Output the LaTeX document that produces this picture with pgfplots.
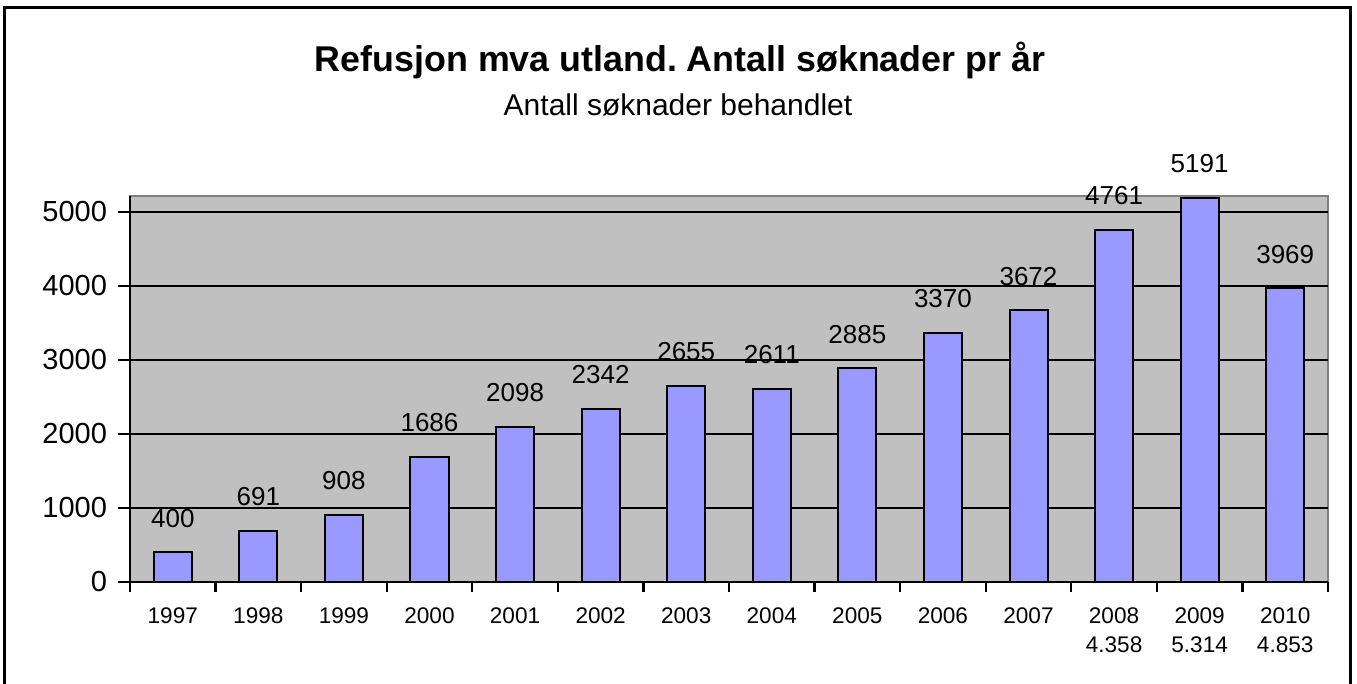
\documentclass[border=0pt]{standalone}
\usepackage{pgfplots}
\pgfplotsset{compat=1.18}
\usepackage{fontspec}
\setmainfont{Liberation Sans}
\frenchspacing
\definecolor{barfill}{HTML}{9999FF}
\definecolor{plotbg}{HTML}{C0C0C0}
\begin{document}
\begin{tikzpicture}
\useasboundingbox (-65pt,-51pt) rectangle (613.5pt,291pt);
\begin{axis}[
  at={(0pt,0pt)}, anchor=south west,
  scale only axis,
  width=599pt, height=193pt,
  xmin=-0.5, xmax=13.5,
  ymin=0, ymax=5216,
  axis lines*=left,
  axis line style={black, line width=1.3pt, -},
  axis background/.style={fill=plotbg, draw=gray, line width=0.8pt},
  ymajorgrids,
  major grid style={black, line width=1pt},
  ytick={0,1000,...,5000},
  xtick={0,...,13},
  xticklabels={1997,1998,1999,2000,2001,2002,2003,2004,2005,2006,2007,{2008\\4.358},{2009\\5.314},{2010\\4.853}},
  minor xtick={-0.5,0.5,...,13.5},
  tick align=outside,
  major tick length=6pt,
  minor tick length=5pt,
  every major x tick/.append style={draw=none},
  tick style={black, line width=1.2pt},
  /pgf/number format/assume math mode=true,
  /pgf/number format/1000 sep={},
  yticklabel style={font=\fontsize{14.5}{16}\selectfont, xshift=-2pt},
  xticklabel style={font=\fontsize{11.3}{14.5}\selectfont, align=center, anchor=north, yshift=-3.5pt},
  ybar, bar width=19pt,
  nodes near coords,
  every node near coord/.append style={font=\fontsize{13}{15}\selectfont, anchor=south, inner sep=0pt, yshift=12pt},
  clip=false,
]
\addplot[fill=barfill, draw=black, line width=1pt] coordinates {
(0,400) (1,691) (2,908) (3,1686) (4,2098) (5,2342) (6,2655) (7,2611) (8,2885) (9,3370) (10,3672) (11,4761) (12,5191) (13,3969)
};
\end{axis}
\draw[black, line width=1.5pt] (-62.5pt,-60pt) -- (-62.5pt,287pt) -- (610pt,287pt) -- (610pt,-60pt);
\node[font=\bfseries\fontsize{17.9}{20}\selectfont] at (275pt,261pt) {Refusjon mva utland. Antall søknader pr år};
\node[font=\fontsize{15}{17}\selectfont] at (274pt,238.5pt) {Antall søknader behandlet};
\end{tikzpicture}
\end{document}
